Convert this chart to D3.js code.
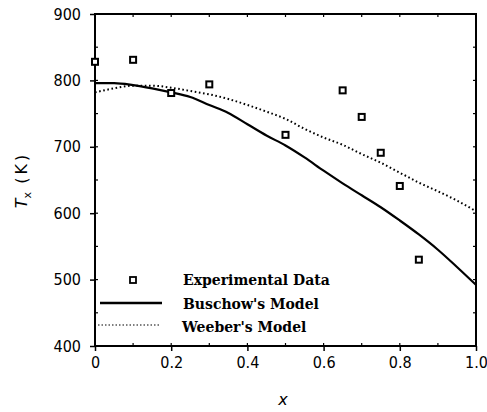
<!DOCTYPE html>
<html><head><meta charset="utf-8">
<script src="https://cdn.jsdelivr.net/npm/d3@7"></script>
<style>
body{margin:0;background:#fff;}
svg{display:block;}
.tick text{font-family:"DejaVu Sans Condensed","DejaVu Sans",sans-serif;font-stretch:condensed;}
</style></head>
<body><svg id="c" width="487" height="412"></svg>
<script>
const xTicks = [0, 0.2, 0.4, 0.6, 0.8, 1.0];
const xTickLabels = ["0", "0.2", "0.4", "0.6", "0.8", "1.0"];
const yTicks = [400, 500, 600, 700, 800, 900];
const expX = [0, 0.1, 0.2, 0.3, 0.5, 0.65, 0.7, 0.75, 0.8, 0.85];
const expT = [828, 831, 781, 794, 718, 785, 745, 691, 641, 530];
const modelX = [0, 0.05, 0.1, 0.15, 0.2, 0.25, 0.3, 0.35, 0.4, 0.45, 0.5, 0.55, 0.6, 0.65, 0.7, 0.75, 0.8, 0.85, 0.9, 0.95, 1.0];
const buschowT = [796, 796, 793, 788, 782, 775, 763, 751, 734, 717, 702, 684, 664, 645, 627, 609, 589, 568, 545, 519, 492];
const weeberT = [782, 788, 792, 792, 789, 784, 779, 772, 763, 753, 742, 727, 714, 703, 689, 676, 661, 646, 633, 619, 603];
const legendLabels = ["Experimental Data", "Buschow's Model", "Weeber's Model"];

const L = 95, R = 476, T = 14, B = 346;
const svg = d3.select("#c");
const x = d3.scaleLinear().domain([0, 1]).range([L, R]);
const y = d3.scaleLinear().domain([400, 900]).range([B, T]);

const minorX = d3.range(0, 1.0001, 0.1);
const minorY = d3.range(400, 900.1, 50);

// frame
svg.append("rect").attr("x", L).attr("y", T).attr("width", R - L).attr("height", B - T)
  .attr("fill", "none").attr("stroke", "#000").attr("stroke-width", 2);

// bottom axis
const xAxis = d3.axisBottom(x).tickValues(xTicks).tickFormat((d, i) => xTickLabels[i]).tickSize(5).tickPadding(6);
const gx = svg.append("g").attr("transform", `translate(0,${B})`).call(xAxis);
gx.select(".domain").remove();
gx.selectAll("line").attr("stroke-width", 1.5);
gx.selectAll("text").attr("font-size", 16).attr("fill", "#000");
// left axis
const yAxis = d3.axisLeft(y).tickValues(yTicks).tickSize(5).tickPadding(9);
const gy = svg.append("g").attr("transform", `translate(${L},0)`).call(yAxis);
gy.select(".domain").remove();
gy.selectAll("line").attr("stroke-width", 1.5);
gy.selectAll("text").attr("font-size", 16).attr("fill", "#000");

// minor ticks
const minor = svg.append("g").attr("stroke", "#000").attr("stroke-width", 1.2);
minorX.forEach(v => {
  minor.append("line").attr("x1", x(v)).attr("x2", x(v)).attr("y1", B).attr("y2", B - 3);
  minor.append("line").attr("x1", x(v)).attr("x2", x(v)).attr("y1", T).attr("y2", T + 3);
});
minorY.forEach(v => {
  minor.append("line").attr("x1", L).attr("x2", L + 3).attr("y1", y(v)).attr("y2", y(v));
  minor.append("line").attr("x1", R).attr("x2", R - 3).attr("y1", y(v)).attr("y2", y(v));
});

// lines
const line = d3.line().x(d => x(d[0])).y(d => y(d[1])).curve(d3.curveMonotoneX);
svg.append("path").datum(modelX.map((v, i) => [v, buschowT[i]])).attr("d", line)
  .attr("fill", "none").attr("stroke", "#000").attr("stroke-width", 2.2);
svg.append("path").datum(modelX.map((v, i) => [v, weeberT[i]])).attr("d", line)
  .attr("fill", "none").attr("stroke", "#000").attr("stroke-width", 2).attr("stroke-dasharray", "1.6,2.6");

// squares
const s = 6;
svg.append("g").selectAll("rect").data(expX.map((v, i) => [v, expT[i]])).join("rect")
  .attr("x", d => x(d[0]) - s / 2).attr("y", d => y(d[1]) - s / 2)
  .attr("width", s).attr("height", s).attr("fill", "#fff").attr("stroke", "#000").attr("stroke-width", 2);

// legend
const lg = svg.append("g");
lg.append("rect").attr("x", 133 - s / 2).attr("y", 280 - s / 2).attr("width", s).attr("height", s)
  .attr("fill", "#fff").attr("stroke", "#000").attr("stroke-width", 1.8);
lg.append("line").attr("x1", 100).attr("x2", 162).attr("y1", 303).attr("y2", 303)
  .attr("stroke", "#000").attr("stroke-width", 2.4);
lg.append("line").attr("x1", 98).attr("x2", 161).attr("y1", 325).attr("y2", 325)
  .attr("stroke", "#000").attr("stroke-width", 1.2).attr("stroke-dasharray", "1.5,2");
const ly = [285, 309, 332];
const lx = [183, 183, 182];
legendLabels.forEach((t, i) => {
  lg.append("text").attr("x", lx[i]).attr("y", ly[i]).text(t)
    .attr("font-family", "'DejaVu Serif', serif").attr("font-weight", "bold").attr("font-size", 14)
    .attr("fill", "#000");
});

// axis titles
const yl = svg.append("text").attr("transform", "translate(27,180) rotate(-90)")
  .attr("text-anchor", "middle").attr("font-family", "'DejaVu Sans', sans-serif").attr("font-size", 16);
yl.append("tspan").attr("font-style", "italic").text("T");
yl.append("tspan").attr("font-size", 11).attr("dy", 4).text("x");
yl.append("tspan").attr("dy", -4).attr("letter-spacing", 3).text(" (K)");
svg.append("text").attr("x", 283).attr("y", 405).attr("text-anchor", "middle")
  .attr("font-family", "'DejaVu Sans', sans-serif").attr("font-style", "italic").attr("font-size", 16).text("x");
</script></body></html>
